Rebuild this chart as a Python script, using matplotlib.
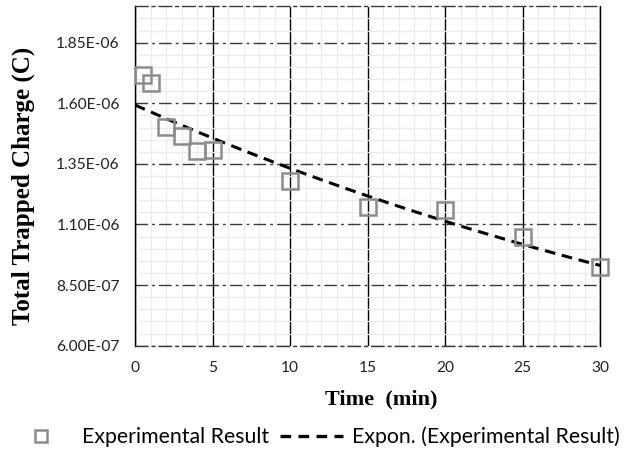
import numpy as np
import matplotlib
matplotlib.use("Agg")
import matplotlib.pyplot as plt
from matplotlib.lines import Line2D
from matplotlib.ticker import MultipleLocator, FuncFormatter

# data
time_min = [0.5, 1, 2, 3, 4, 5, 10, 15, 20, 25, 30]
charge = [1.715e-6, 1.682e-6, 1.503e-6, 1.463e-6, 1.404e-6, 1.408e-6,
          1.281e-6, 1.172e-6, 1.159e-6, 1.049e-6, 0.926e-6]

# exponential trendline (like Excel's "Expon.")
b, ln_a = np.polyfit(time_min, np.log(charge), 1)
xt = np.linspace(0, 30, 200)
yt = np.exp(ln_a) * np.exp(b * xt)

fig = plt.figure(figsize=(6.42, 4.59), dpi=100)
ax = fig.add_axes([0.2103, 0.2468, 0.7243, 0.7395])

ax.set_xlim(0, 30)
ax.set_ylim(6.0e-7, 2.0e-6)
ax.xaxis.set_major_locator(MultipleLocator(5))
ax.xaxis.set_minor_locator(MultipleLocator(1))
ax.yaxis.set_minor_locator(MultipleLocator(5e-8))
ax.set_yticks([6.0e-7, 8.5e-7, 1.1e-6, 1.35e-6, 1.6e-6, 1.85e-6])
ax.yaxis.set_major_formatter(FuncFormatter(lambda v, p: ("%.2E" % v)))

ax.grid(which="minor", color="#ebebeb", linewidth=0.9)
ax.grid(which="major", axis="x", color="black", linewidth=1.0)
ax.grid(which="major", axis="y", color="#3a3a3a", linewidth=1.0,
        dashes=(9, 3, 2, 3))
ax.set_axisbelow(True)

for s in ["left", "right"]:
    ax.spines[s].set_color("black")
    ax.spines[s].set_linewidth(1.0)
for s in ["top", "bottom"]:
    ax.spines[s].set_color("#3a3a3a")
    ax.spines[s].set_linewidth(1.0)
    ax.spines[s].set_linestyle((0, (9, 3, 2, 3)))

ax.tick_params(which="both", length=0)
ax.tick_params(axis="y", labelsize=11.2, colors="#222222", pad=11)
ax.tick_params(axis="x", labelsize=11.2, colors="#222222", pad=11)
for lab in ax.get_xticklabels() + ax.get_yticklabels():
    lab.set_family("Lato")

ax.plot(xt, yt, color="black", linewidth=2.2, dashes=(3.5, 2.2), zorder=3)
ax.plot(time_min, charge, linestyle="none", marker="s", markersize=11.5,
        markerfacecolor="none", markeredgecolor="#8c8c8c",
        markeredgewidth=1.8, zorder=4, clip_on=False)

ax.set_xlabel("Time  (min)", family="Liberation Serif", fontweight="bold",
              fontsize=16)
ax.xaxis.set_label_coords(0.594, 0.152, transform=fig.transFigure)
ax.set_ylabel("Total Trapped Charge (C)", family="Liberation Serif",
              fontweight="bold", fontsize=18)
ax.yaxis.set_label_coords(0.054, 0.595, transform=fig.transFigure)

handles = [
    Line2D([], [], linestyle="none", marker="s", markersize=9,
           markerfacecolor="none", markeredgecolor="#8c8c8c",
           markeredgewidth=1.8),
    Line2D([], [], color="black", linewidth=2.4, dashes=(3.2, 2.2)),
]
fig.legend(handles, ["Experimental Result", "Expon. (Experimental Result)"],
           loc="center", bbox_to_anchor=(0.49, 0.048), ncol=2, frameon=False,
           prop={"family": "Lato", "size": 15.3}, handlelength=3.0,
           columnspacing=0.5, handletextpad=0.42)

fig.savefig("out.png", dpi=100)
